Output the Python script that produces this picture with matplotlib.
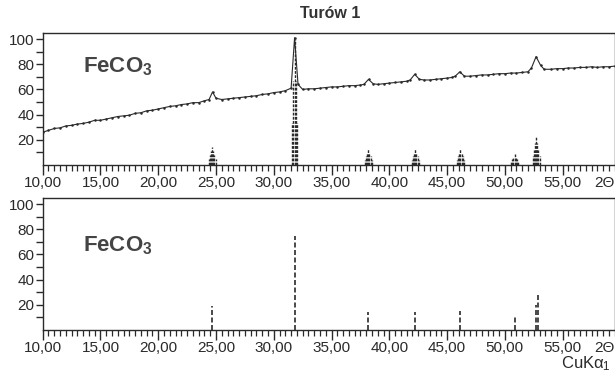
import matplotlib
matplotlib.use('Agg')
import matplotlib.pyplot as plt

# Measured XRD pattern, sample "Turów 1" (2-theta in degrees, relative intensity)
two_theta = [10.0, 10.5, 11.0, 11.5, 12.0, 12.5, 13.0, 13.5, 14.0, 14.5,
             15.0, 15.5, 16.0, 16.5, 17.0, 17.5, 18.0, 18.5, 19.0, 19.5,
             20.0, 20.5, 21.0, 21.5, 22.0, 22.5, 23.0, 23.5, 24.0, 24.4,
             24.7, 25.0, 25.5, 26.0, 26.5, 27.0, 27.5, 28.0, 28.5, 29.0,
             29.5, 30.0, 30.5, 31.0, 31.5, 31.8, 32.1, 32.5, 33.0, 33.5,
             34.0, 34.5, 35.0, 35.5, 36.0, 36.5, 37.0, 37.5, 37.8, 38.2,
             38.6, 39.0, 39.5, 40.0, 40.5, 41.0, 41.5, 41.8, 42.2, 42.6,
             43.0, 43.5, 44.0, 44.5, 45.0, 45.4, 45.7, 46.1, 46.5, 47.0,
             47.5, 48.0, 48.5, 49.0, 49.5, 50.0, 50.5, 51.0, 51.5, 52.0,
             52.3, 52.7, 53.1, 53.4, 54.0, 54.5, 55.0, 55.5, 56.0, 56.5,
             57.0, 57.5, 58.0, 58.5, 59.0, 59.5]
intensity = [26.0, 27.5, 29.0, 29.5, 31.0, 31.5, 32.5, 33.0, 34.0, 35.5,
             35.5, 36.5, 37.5, 38.5, 39.0, 39.5, 41.0, 41.5, 43.0, 43.5,
             44.5, 45.5, 46.5, 47.0, 48.0, 48.5, 49.5, 49.5, 51.0, 52.0,
             58.0, 53.0, 52.0, 52.5, 53.0, 53.5, 54.0, 54.5, 55.0, 56.0,
             56.5, 57.5, 58.0, 59.0, 61.0, 101.0, 64.0, 60.0, 60.5, 60.5,
             61.0, 61.5, 62.0, 62.0, 62.5, 63.0, 63.0, 63.5, 64.0, 68.0,
             64.5, 64.0, 64.5, 65.0, 65.5, 66.0, 66.5, 67.5, 72.0, 68.0,
             67.5, 67.5, 68.0, 68.5, 69.0, 69.5, 70.5, 74.0, 70.5, 70.5,
             71.0, 71.5, 71.5, 72.0, 72.5, 72.5, 73.0, 73.0, 73.5, 74.0,
             77.0, 86.0, 79.0, 76.0, 76.0, 76.5, 76.5, 77.0, 77.0, 77.5,
             77.5, 78.0, 77.5, 78.0, 78.0, 78.5]

# Reference lines for FeCO3 (siderite)
ref_pos = [24.67, 31.85, 38.18, 42.24, 46.15, 50.84, 52.68, 52.83]
ref_int = [19, 74.5, 14.5, 14.5, 15, 10.5, 20, 28]

# Reference markers drawn in the upper panel
mark_pos = [24.67, 31.8, 38.18, 42.24, 46.15, 50.84, 52.7]
mark_h = [14, 100, 12.5, 12.5, 12.5, 8.5, 22]

xticks = [10, 15, 20, 25, 30, 35, 40, 45, 50, 55]
xlabels = ['10,00', '15,00', '20,00', '25,00', '30,00', '35,00', '40,00',
           '45,00', '50,00', '55,00']
yticks = [20, 40, 60, 80, 100]

plt.rcParams['font.family'] = ['Liberation Sans', 'DejaVu Sans']
plt.rcParams['mathtext.fontset'] = 'custom'
plt.rcParams['mathtext.bf'] = 'Liberation Sans:bold'
plt.rcParams['mathtext.rm'] = 'Liberation Sans'
plt.rcParams['mathtext.it'] = 'Liberation Sans'

ink = '#2a2a2a'
fig = plt.figure(figsize=(6.15, 3.74), dpi=100)
ax1 = fig.add_axes([0.0694, 0.5588, 0.93, 0.353])
ax2 = fig.add_axes([0.0694, 0.1176, 0.93, 0.353])


def style_axis(ax, label_y):
    ax.set_xlim(10, 59.45)
    ax.set_ylim(0, 104.8)
    ax.set_xticks(xticks)
    ax.set_xticklabels(xlabels)
    ax.set_xticks([10 + 0.5 * i for i in range(100)], minor=True)
    ax.set_yticks(yticks)
    ax.set_yticks([10, 30, 50, 70, 90], minor=True)
    ax.tick_params(axis='x', which='major', length=7, width=1, color=ink,
                   labelsize=11, labelcolor=ink, pad=1)
    ax.tick_params(axis='x', which='minor', length=4.5, width=0.9, color=ink)
    ax.tick_params(axis='y', which='both', length=5, width=1, color=ink,
                   labelsize=11, labelcolor=ink, pad=1)
    for s in ax.spines.values():
        s.set_color(ink)
        s.set_linewidth(1)
    ax.text(58.6, -0.165, '2Θ', fontsize=11, color=ink, ha='center',
            va='baseline', transform=ax.get_xaxis_transform())
    ax.text(0.07, label_y, r'$\mathbf{FeCO_3}$', transform=ax.transAxes,
            fontsize=16, color='#444444', va='center')


style_axis(ax1, 0.745)
style_axis(ax2, 0.635)

# upper panel: measured pattern
ax1.plot(two_theta, intensity, color=ink, lw=0.8, marker='.', ms=1.6)

# hatched reference markers in upper panel
for c, h in zip(mark_pos, mark_h):
    half = 0.35 if h < 50 else 0.2
    for dx in [-0.3, -0.2, -0.1, 0.0, 0.1, 0.2, 0.3]:
        if abs(dx) > half:
            continue
        ax1.vlines(c + dx, 0, h * (1 - abs(dx) / (half + 0.1)), color=ink,
                   lw=1.0, linestyles=(0, (2, 1)))

# lower panel: reference stick pattern
ax2.vlines(ref_pos, 0, ref_int, color=ink, lw=1.2, linestyles=(0, (3, 1.5)))

fig.text(0.537, 0.965, 'Turów 1', fontsize=11.5, fontweight='bold', color='#333333',
         ha='center', va='center')
fig.text(0.912, 0.028, r'CuK$\alpha_1$', fontsize=12, color=ink, ha='left',
         va='center')

fig.savefig('out.png', dpi=100)
